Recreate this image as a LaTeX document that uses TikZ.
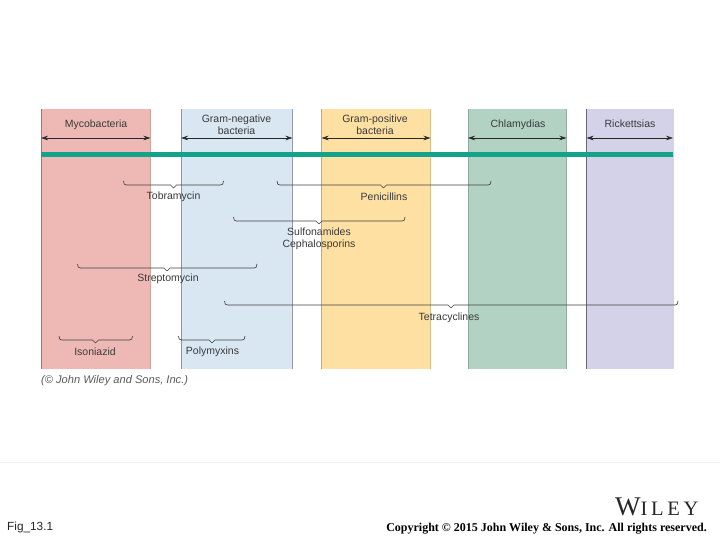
\documentclass[tikz,border=0pt]{standalone}
\usepackage{fontspec}
\setmainfont{Liberation Sans}
\newfontfamily\serifface{Liberation Serif}
\newfontfamily\wideserif[LetterSpace=18]{Liberation Serif}
\usetikzlibrary{arrows.meta}
\definecolor{redband}{HTML}{EEB9B5}
\definecolor{blueband}{HTML}{D8E7F2}
\definecolor{yellowband}{HTML}{FDE0A2}
\definecolor{greenband}{HTML}{B2D3C3}
\definecolor{purpleband}{HTML}{D3D2E8}
\definecolor{tealbar}{HTML}{12A38A}
\definecolor{labelgrey}{HTML}{3A3A3A}
\tikzset{
  band/.style={fill=#1,draw=none},
  edge/.style={draw=#1,line width=0.9pt},
  span/.style={draw=black!85,line width=0.6pt,{Stealth[length=7pt,width=4.5pt]}-{Stealth[length=7pt,width=4.5pt]}},
  brace/.style={draw=black!75,line width=0.65pt,line join=round},
  lab/.style={text=labelgrey,font=\fontsize{10.5}{11.8}\selectfont,align=center,inner sep=0pt},
}
\newcommand{\bandat}[6]{% x1 x2 fill leftedge rightedge name
  \fill[band=#3] (#1,109) rectangle (#2,369);
  \draw[edge=#4] (#1,109) -- (#1,369);
  \draw[edge=#5] (#2,109) -- (#2,369);
  \coordinate (#6L) at (#1,138);
  \coordinate (#6R) at (#2,138);
}
\newcommand{\bracketat}[5]{% x1 tip x2 ytop name
  \coordinate (#5a) at (#1,#4);
  \coordinate (#5b) at (#3,#4);
  \coordinate (#5t) at (#2,#4+7);
  \draw[brace] (#5a) .. controls (#1,#4+3) and (#1+1,#4+4) .. (#1+3,#4+4)
    -- (#2-3,#4+4) -- (#5t) -- (#2+3,#4+4) -- (#3-3,#4+4)
    .. controls (#3-1,#4+4) and (#3,#4+3) .. (#5b);
}
\begin{document}
\begin{tikzpicture}[x=1pt,y=-1pt]
\useasboundingbox (0,0) rectangle (720,540);
\fill[white] (0,0) rectangle (720,540);
\bandat{41}{150.5}{redband}{redband!65!black}{redband!88!black}{my}
\bandat{181}{292.5}{blueband}{blueband!65!black}{blueband!68!black}{gn}
\bandat{321.5}{430.5}{yellowband}{yellowband!75!black}{yellowband!85!black}{gp}
\bandat{468}{566.5}{greenband}{greenband!80!black}{greenband!82!black}{ch}
\bandat{586.5}{673}{purpleband}{purpleband!50!black}{purpleband}{ri}
\fill[tealbar] (41,152.5) rectangle (673,157);
\draw[black!5,line width=1pt] (0,462) -- (720,462);
\draw[span] (myL) -- (myR);
\draw[span] (gnL) -- (gnR);
\draw[span] (gpL) -- (gpR);
\draw[span] (chL) -- (chR);
\draw[span] (riL) -- (riR);
\bracketat{123.5}{173.5}{223.5}{181}{tob}
\bracketat{277}{383.5}{491}{181}{pen}
\bracketat{233.5}{319}{405}{217}{sul}
\bracketat{77.5}{167}{257}{264}{str}
\bracketat{224.5}{451}{678}{301}{tet}
\bracketat{59}{95.5}{132.5}{336}{iso}
\bracketat{178.5}{212}{245}{336}{pol}
\node[lab] (nmy) at (96,124.5) {Mycobacteria};
\node[lab] (ngn) at (236.5,125) {Gram-negative\\bacteria};
\node[lab] (ngp) at (375,125) {Gram-positive\\bacteria};
\node[lab] (nch) at (518,124.5) {Chlamydias};
\node[lab] (nri) at (630,124) {Rickettsias};
\node[lab] (ntob) at (173.5,197) {Tobramycin};
\node[lab] (npen) at (384,197) {Penicillins};
\node[lab] (nsul) at (319,238.5) {Sulfonamides\\Cephalosporins};
\node[lab] (nstr) at (168,279) {Streptomycin};
\node[lab] (ntet) at (449,317.5) {Tetracyclines};
\node[lab] (niso) at (95,351.5) {Isoniazid};
\node[lab] (npol) at (212.5,351.5) {Polymyxins};
\node[lab,anchor=west,font=\itshape\fontsize{11.1}{12}\selectfont,text=black!65] (ncap) at (41,380.5) {(© John Wiley and Sons, Inc.)};
\node[anchor=west,inner sep=0pt,font=\fontsize{11.8}{13}\selectfont,text=black!85] (nfig) at (7,527.5) {Fig\_13.1};
\node[anchor=east,inner sep=0pt,font=\serifface\bfseries\fontsize{12}{13}\selectfont] (ncopy) at (707,528.5) {Copyright © 2015 John Wiley \& Sons, Inc. All rights reserved.};
\node[anchor=base west,inner sep=0pt,text=black!85] (nwiley) at (615,515) {\serifface\fontsize{27}{27}\selectfont W\wideserif\fontsize{20.5}{21}\selectfont ILEY};
\end{tikzpicture}
\end{document}
